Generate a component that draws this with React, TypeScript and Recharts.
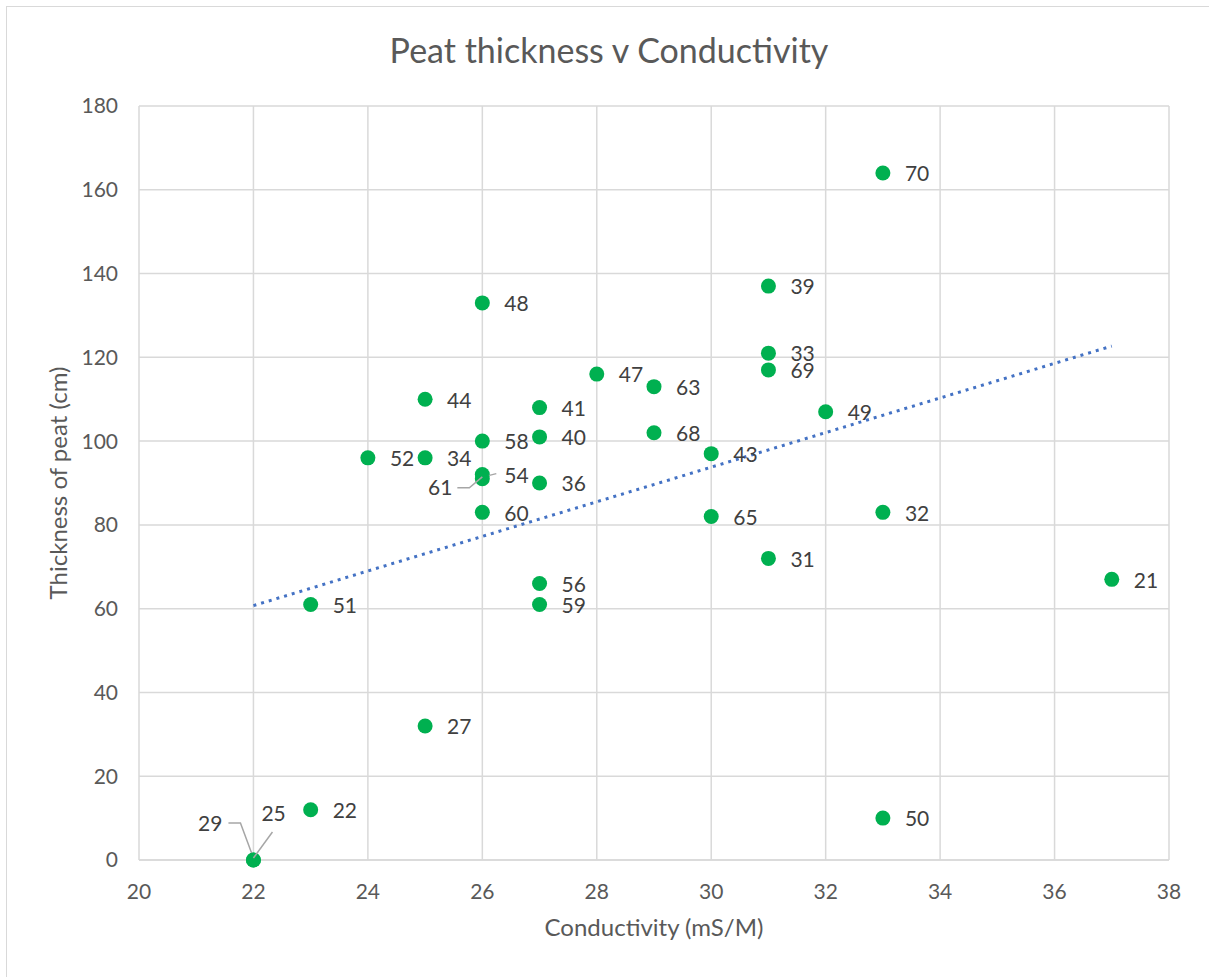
import { ScatterChart, Scatter, XAxis, YAxis, CartesianGrid } from 'recharts'

// Peat thickness v Conductivity — one point per site, label = site number.

const conductivity = [22, 22, 23, 23, 24, 25, 25, 25, 26, 26, 26, 26, 26, 27, 27, 27, 27, 27, 28, 29, 29, 30, 30, 31, 31, 31, 31, 32, 33, 33, 33, 37]
const thickness = [0, 0, 12, 61, 96, 110, 96, 32, 133, 100, 92, 91, 83, 108, 101, 90, 66, 61, 116, 113, 102, 97, 82, 137, 121, 117, 72, 107, 164, 83, 10, 67]
const siteLabels = ['29', '25', '22', '51', '52', '44', '34', '27', '48', '58', '54', '61', '60', '41', '40', '36', '56', '59', '47', '63', '68', '43', '65', '39', '33', '69', '31', '49', '70', '32', '50', '21']

const xTicks = [20, 22, 24, 26, 28, 30, 32, 34, 36, 38]
const yTicks = [0, 20, 40, 60, 80, 100, 120, 140, 160, 180]

const FONT = 'Lato, "Open Sans", sans-serif'
const TEXT = '#595959'
const LABEL = '#404040'
const GRID = '#d9d9d9'
const GREEN = '#00b050'
const TREND = '#4472c4'
const LEADER = '#a6a6a6'

const points = conductivity.map((x, i) => ({ x, y: thickness[i], label: siteLabels[i] }))

// linear trendline (least squares), drawn between the smallest and largest x
function trendline() {
  const n = conductivity.length
  const mx = conductivity.reduce((a, b) => a + b, 0) / n
  const my = thickness.reduce((a, b) => a + b, 0) / n
  let sxy = 0
  let sxx = 0
  conductivity.forEach((x, i) => {
    sxy += (x - mx) * (thickness[i] - my)
    sxx += (x - mx) * (x - mx)
  })
  const slope = sxy / sxx
  const icpt = my - slope * mx
  const lo = Math.min(...conductivity)
  const hi = Math.max(...conductivity)
  return [
    { x: lo, y: icpt + slope * lo },
    { x: hi, y: icpt + slope * hi },
  ]
}

// a few labels were dragged off the point in the original, with leader lines
function PointShape(props: any) {
  const { cx, cy, payload } = props
  const lab = payload.label
  const txt = { fontFamily: FONT, fontSize: 21, fill: LABEL }
  let label
  if (lab === '61') {
    label = (
      <g>
        <polyline points={`${cx - 25},${cy + 9} ${cx - 13},${cy + 9} ${cx},${cy - 2}`} fill="none" stroke={LEADER} strokeWidth={1.5} />
        <text x={cx - 30} y={cy + 9} dy="0.35em" textAnchor="end" style={txt}>{lab}</text>
      </g>
    )
  } else if (lab === '29') {
    label = (
      <g>
        <polyline points={`${cx - 25},${cy - 37} ${cx - 13},${cy - 37} ${cx},${cy - 2}`} fill="none" stroke={LEADER} strokeWidth={1.5} />
        <text x={cx - 31} y={cy - 36} dy="0.35em" textAnchor="end" style={txt}>{lab}</text>
      </g>
    )
  } else if (lab === '25') {
    label = (
      <g>
        <polyline points={`${cx + 19},${cy - 28} ${cx},${cy - 2}`} fill="none" stroke={LEADER} strokeWidth={1.5} />
        <text x={cx + 8} y={cy - 46} dy="0.35em" style={txt}>{lab}</text>
      </g>
    )
  } else if (lab === '54') {
    label = (
      <g>
        <polyline points={`${cx + 2},${cy + 2} ${cx + 14},${cy - 1}`} fill="none" stroke={LEADER} strokeWidth={1.5} />
        <text x={cx + 22} y={cy + 1} dy="0.35em" style={txt}>{lab}</text>
      </g>
    )
  } else {
    label = <text x={cx + 22} y={cy + 1} dy="0.35em" style={txt}>{lab}</text>
  }
  return (
    <g>
      <circle cx={cx} cy={cy} r={7.5} fill={GREEN} />
      {label}
    </g>
  )
}

export default function App() {
  const tick = { fontFamily: FONT, fontSize: 21, fill: TEXT }
  return (
    <div style={{ position: 'absolute', left: 0, top: 0, width: 1209, height: 977, background: '#fff', overflow: 'hidden' }}>
      <div style={{ position: 'absolute', left: 6, top: 6, width: 1300, height: 1100, borderLeft: `1.5px solid ${GRID}`, borderTop: `1.5px solid ${GRID}` }} />
      <div style={{ position: 'absolute', left: 0, top: 29, width: 1218, textAlign: 'center', fontFamily: FONT, fontSize: 34, color: TEXT }}>
        Peat thickness v Conductivity
      </div>
      <div style={{ position: 'absolute', left: 139, top: 912, width: 1030, textAlign: 'center', fontFamily: FONT, fontSize: 24, color: TEXT }}>
        Conductivity (mS/M)
      </div>
      <div style={{ position: 'absolute', left: 58, top: 483, width: 0, height: 0 }}>
        <div style={{ position: 'absolute', left: -300, top: -16, width: 600, textAlign: 'center', transform: 'rotate(-90deg)', fontFamily: FONT, fontSize: 24, color: TEXT, lineHeight: '32px' }}>
          Thickness of peat (cm)
        </div>
      </div>
      <div style={{ position: 'absolute', left: 0, top: 0 }}>
        <ScatterChart width={1209} height={977} margin={{ top: 106, right: 40, bottom: 57, left: 79 }}>
          <CartesianGrid stroke={GRID} strokeWidth={1.5} />
          <XAxis
            type="number"
            dataKey="x"
            domain={[20, 38]}
            ticks={xTicks}
            interval={0}
            height={60}
            tickLine={false}
            tickSize={0}
            tickMargin={24}
            axisLine={{ stroke: GRID, strokeWidth: 1.5 }}
            tick={tick}
          />
          <YAxis
            type="number"
            dataKey="y"
            domain={[0, 180]}
            ticks={yTicks}
            interval={0}
            width={60}
            tickLine={false}
            tickSize={0}
            tickMargin={21}
            axisLine={false}
            tick={tick}
          />
          <Scatter
            data={trendline()}
            line={{ stroke: TREND, strokeWidth: 3, strokeDasharray: '3 5' }}
            shape={() => <g />}
            isAnimationActive={false}
          />
          <Scatter data={points} shape={PointShape} isAnimationActive={false} />
        </ScatterChart>
      </div>
    </div>
  )
}
